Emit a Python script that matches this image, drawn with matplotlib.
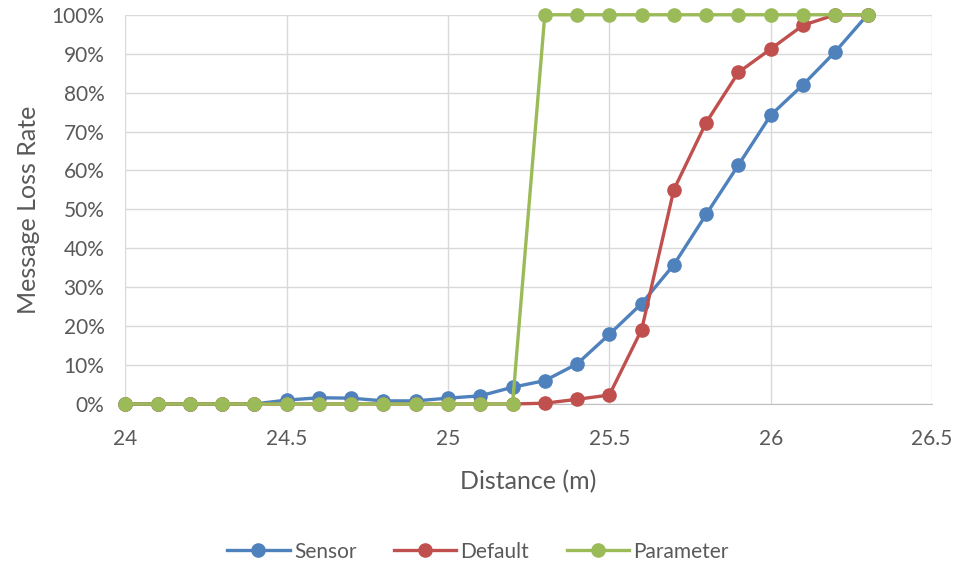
import matplotlib.pyplot as plt
from matplotlib.ticker import FuncFormatter, MultipleLocator

plt.rcParams['font.family'] = ['Lato', 'DejaVu Sans']

# distances in metres
distance = [24.0, 24.1, 24.2, 24.3, 24.4, 24.5, 24.6, 24.7, 24.8, 24.9, 25.0, 25.1,
            25.2, 25.3, 25.4, 25.5, 25.6, 25.7, 25.8, 25.9, 26.0, 26.1, 26.2, 26.3]

# message loss rate in percent
sensor = [0, 0, 0, 0, 0, 1.0, 1.6, 1.5, 0.8, 0.8, 1.5, 2.1,
          4.3, 6.0, 10.3, 17.9, 25.8, 35.8, 48.7, 61.4, 74.2, 82.0, 90.5, 100]
default = [0, 0, 0, 0, 0, 0, 0, 0, 0, 0, 0, 0,
           0, 0.2, 1.2, 2.3, 19.1, 55.1, 72.3, 85.2, 91.2, 97.3, 100, 100]
parameter = [0, 0, 0, 0, 0, 0, 0, 0, 0, 0, 0, 0,
             0, 100, 100, 100, 100, 100, 100, 100, 100, 100, 100, 100]

series = [('Sensor', sensor, '#4F81BD'),
          ('Default', default, '#C0504D'),
          ('Parameter', parameter, '#9BBB59')]

fig = plt.figure(figsize=(9.56, 5.67), dpi=100)
ax = fig.add_axes([0.131, 0.2875, 0.844, 0.6865])

for name, vals, color in series:
    ax.plot(distance, vals, color=color, lw=2.4, marker='o', ms=9.5,
            label=name, clip_on=False, zorder=3)

ax.set_xlim(24, 26.5)
ax.set_ylim(0, 100)
ax.xaxis.set_major_locator(MultipleLocator(0.5))
ax.yaxis.set_major_locator(MultipleLocator(10))
ax.xaxis.set_major_formatter(FuncFormatter(lambda v, p: f'{v:g}'))
ax.yaxis.set_major_formatter(FuncFormatter(lambda v, p: f'{v:.0f}%'))

ax.grid(True, color='#d9d9d9', lw=1)
ax.set_axisbelow(True)
for side in ['top', 'right', 'left']:
    ax.spines[side].set_visible(False)
ax.spines['bottom'].set_color('#bfbfbf')
ax.tick_params(length=0, colors='#595959', labelsize=15)
ax.tick_params(axis='x', pad=18)
ax.tick_params(axis='y', pad=15)

ax.set_xlabel('Distance (m)', fontsize=18, color='#595959', labelpad=15)
ax.set_ylabel('Message Loss Rate', fontsize=18, color='#595959', labelpad=8)

leg = fig.legend(loc='center', bbox_to_anchor=(0.5, 0.027), ncol=3, frameon=False,
                 fontsize=15, handlelength=3.0, columnspacing=1.8, handletextpad=0.2)
for t in leg.get_texts():
    t.set_color('#595959')

fig.savefig('out.png', dpi=100)
